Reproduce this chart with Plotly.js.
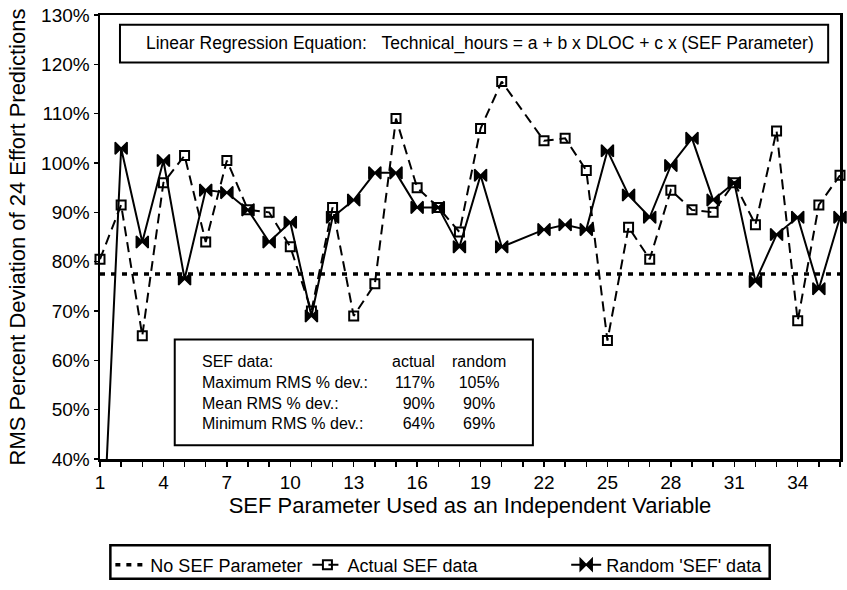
<!DOCTYPE html>
<html>
<head>
<meta charset="utf-8">
<script src="https://cdn.plot.ly/plotly-3.0.1.min.js"></script>
<style>html,body{margin:0;padding:0;background:#fff;}#chart{width:847px;height:590px;}</style>
</head>
<body>
<div id="chart"></div>
<script>
// SEF parameter index (x axis)
var params = [1,2,3,4,5,6,7,8,9,10,11,12,13,14,15,16,17,18,19,20,21,22,23,24,25,26,27,28,29,30,31,32,33,34,35,36];
// RMS % deviation using the actual SEF data (parameter 21 has no point)
var actualSef = [80.5,91.5,65,96,101.5,84,100.5,90.5,90,83,70,91,69,75.5,109,95,91,86,107,116.5,null,104.5,105,98.5,64,87,80.5,94.5,90.5,90,96,87.5,106.5,68,91.5,97.5];
// RMS % deviation using random 'SEF' data
var randomSef = [10,103,84,100.5,76.5,94.5,94,90.5,84,88,69,89,92.5,98,98,91,91,83,97.5,83,null,86.5,87.5,86.5,102.5,93.5,89,99.5,105,92.5,96,76,85.5,89,74.5,89];
// Baseline without an SEF parameter
var noSefX = [1, 36];
var noSefY = [77.5, 77.5];
// Tick labels
var labelledTicks = [1,4,7,10,13,16,19,22,25,28,31,34];
var tickText = params.map(function(p){ return labelledTicks.indexOf(p) >= 0 ? String(p) : ''; });
// Stats box text
var statLabels = ['SEF data:', 'Maximum RMS % dev.:', 'Mean RMS % dev.:', 'Minimum RMS % dev.:'];
var statActual = ['actual', '117%', '90%', '64%'];
var statRandom = ['random', '105%', '90%', '69%'];

var FONT = 'Liberation Sans, Arial, Helvetica, sans-serif';

var traces = [
  {
    x: noSefX, y: noSefY, type: 'scatter', mode: 'lines', name: 'No SEF Parameter',
    legend: 'legend',
    line: {color: '#000', width: 3.5, dash: '5px,6px'}
  },
  {
    x: params, y: actualSef, type: 'scatter', mode: 'lines+markers', name: 'Actual SEF data',
    legend: 'legend',
    connectgaps: true, cliponaxis: false,
    line: {color: '#000', width: 2, dash: '10px,6px'},
    marker: {symbol: 'square-open', size: 9, color: '#000', line: {color: '#000', width: 2}}
  },
  {
    x: params, y: randomSef, type: 'scatter', mode: 'lines+markers', name: "Random 'SEF' data",
    legend: 'legend2',
    connectgaps: true, cliponaxis: false,
    line: {color: '#000', width: 2},
    marker: {symbol: 'bowtie', size: 12, color: '#000', line: {color: '#000', width: 1.5}}
  }
];

var annotations = [
  {
    xref: 'paper', yref: 'paper', x: 0.514, y: 0.9355, xanchor: 'center', yanchor: 'middle',
    text: 'Linear Regression Equation:\u00a0\u00a0\u00a0Technical_hours = a + b x DLOC + c x (SEF Parameter)',
    showarrow: false, font: {family: FONT, size: 17.5, color: '#000'}
  },
  {
    xref: 'paper', yref: 'paper', x: 0.135, y: 0.15, xanchor: 'left', yanchor: 'middle', align: 'left',
    text: statLabels.join('<br>'), showarrow: false, font: {family: FONT, size: 16, color: '#000'}
  },
  {
    xref: 'paper', yref: 'paper', x: 0.455, y: 0.15, xanchor: 'right', yanchor: 'middle', align: 'right',
    text: statActual.join('<br>'), showarrow: false, font: {family: FONT, size: 16, color: '#000'}
  },
  {
    xref: 'paper', yref: 'paper', x: 0.512, y: 0.15, xanchor: 'center', yanchor: 'middle', align: 'center',
    text: statRandom.join('<br>'), showarrow: false, font: {family: FONT, size: 16, color: '#000'}
  }
];

var shapes = [
  // equation box
  {type: 'rect', xref: 'paper', yref: 'paper', x0: 0.027, x1: 0.984, y0: 0.893, y1: 0.978,
   line: {color: '#000', width: 2}, fillcolor: 'rgba(255,255,255,0)'},
  // statistics box
  {type: 'rect', xref: 'paper', yref: 'paper', x0: 0.101, x1: 0.585, y0: 0.031, y1: 0.269,
   line: {color: '#000', width: 2}, fillcolor: 'rgba(255,255,255,0)'},
  // legend frame
  {type: 'rect', xref: 'paper', yref: 'paper', x0: 0.014, x1: 0.905, y0: -0.2695, y1: -0.194,
   line: {color: '#000', width: 2.5}, fillcolor: 'rgba(255,255,255,0)'}
];

var legendCommon = {
  orientation: 'h', yanchor: 'top', y: -0.197, xanchor: 'left',
  borderwidth: 0, bgcolor: 'rgba(255,255,255,0)',
  font: {family: FONT, size: 18, color: '#000'}, itemwidth: 30, tracegroupgap: 0
};

var layout = {
  width: 847, height: 590,
  margin: {l: 100, r: 7, t: 15, b: 126},
  paper_bgcolor: '#fff', plot_bgcolor: '#fff',
  font: {family: FONT, color: '#000'},
  showlegend: true,
  xaxis: {
    range: [1, 36], tickmode: 'array', tickvals: params, ticktext: tickText,
    ticks: 'outside', ticklen: 5, tickwidth: 1.5, tickcolor: '#000',
    showline: true, linecolor: '#000', linewidth: 2.5, mirror: true,
    showgrid: false, zeroline: false,
    tickfont: {family: FONT, size: 19, color: '#000'},
    title: {text: 'SEF Parameter Used as an Independent Variable', font: {family: FONT, size: 22, color: '#000'}, standoff: 2}
  },
  yaxis: {
    range: [40, 130], tickmode: 'linear', tick0: 40, dtick: 10, ticksuffix: '%',
    ticks: 'outside', ticklen: 4, tickwidth: 1.5, tickcolor: '#000',
    showline: true, linecolor: '#000', linewidth: 2.5, mirror: true,
    showgrid: false, zeroline: false,
    tickfont: {family: FONT, size: 19, color: '#000'},
    title: {text: 'RMS Percent Deviation of 24 Effort Predictions', font: {family: FONT, size: 22, color: '#000'}, standoff: 10}
  },
  legend: Object.assign({}, legendCommon, {x: 0.014}),
  legend2: Object.assign({}, legendCommon, {x: 0.63}),
  annotations: annotations,
  shapes: shapes
};

Plotly.newPlot('chart', traces, layout, {staticPlot: true, displayModeBar: false});
</script>
</body>
</html>
